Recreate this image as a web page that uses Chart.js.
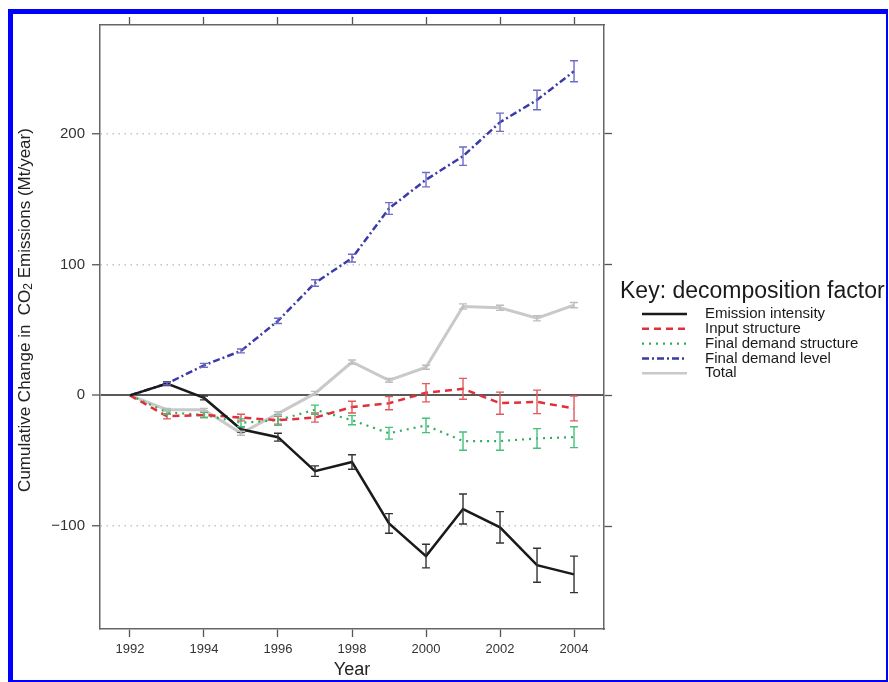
<!DOCTYPE html>
<html>
<head>
<meta charset="utf-8">
<script src="https://cdn.jsdelivr.net/npm/chart.js@4.4.1/dist/chart.umd.min.js"></script>
<style>
  html, body { margin: 0; padding: 0; background: #fff; }
  #wrap { position: relative; width: 889px; height: 682px; }
  #chart { display: block; }
  #frame { position: absolute; left: 8px; top: 9px; width: 880px; height: 673px; box-sizing: border-box;
    border-style: solid; border-color: #0000ff; border-width: 5px 2px 2px 5px; pointer-events: none; }
</style>
</head>
<body>
<div id="wrap">
  <canvas id="chart" width="889" height="682"></canvas>
  <div id="frame"></div>
</div>
<script>
// values (Mt/year, cumulative from 1992)
const years = [1992, 1993, 1994, 1995, 1996, 1997, 1998, 1999, 2000, 2001, 2002, 2003, 2004];
const emissionIntensity    = [0, 9, -2, -26, -32, -58, -51, -98, -123, -87, -101, -130, -137];
const emissionIntensityErr = [0, 1.5, 1.5, 2, 3, 4, 5.5, 7.5, 9, 11.5, 12, 13, 14];
const inputStructure       = [0, -16, -15, -17, -19, -17, -9, -6, 2, 5, -6, -5, -10];
const inputStructureErr    = [0, 2, 2, 2.5, 3, 3.5, 4.5, 5, 7, 8, 8.5, 9, 9.5];
const finalDemandStructure    = [0, -13, -15, -21, -19, -11, -19, -29, -23, -35, -35, -33, -32];
const finalDemandStructureErr = [0, 1.5, 2, 3, 4, 3.5, 3.5, 4.5, 5.5, 7, 7, 7.5, 8];
const finalDemandLevel    = [0, 9, 23, 34, 57, 86, 105, 143, 165, 183, 209, 226, 248];
const finalDemandLevelErr = [0, 1, 1.5, 1.5, 2, 2.5, 3, 4.5, 5.5, 7, 7, 7.5, 8];
const total    = [0, -11, -11, -29, -14, 1.5, 25.5, 11.5, 21.5, 68, 67, 59, 69];
const totalErr = [0, 1, 1, 1.5, 1.5, 1.5, 1.5, 1.5, 1.5, 2, 2, 2, 2];

const xTicks = [1992, 1994, 1996, 1998, 2000, 2002, 2004];
const yTicks = [-100, 0, 100, 200];
const xRange = [1991.19, 2004.81];
const yRange = [-178.8, 283.4];

const FONT = '"Liberation Sans", Arial, Helvetica, sans-serif';
const pts = vals => years.map((yr, i) => ({ x: yr, y: vals[i] }));

// error bars drawn from the errors array of each dataset
const errorBars = {
  id: 'errorBars',
  afterDatasetsDraw(chart) {
    const { ctx, scales: { x, y } } = chart;
    chart.data.datasets.forEach(ds => {
      if (!ds.errors) return;
      ctx.save();
      ctx.strokeStyle = ds.errColor;
      ctx.lineWidth = 1.4;
      ctx.setLineDash([]);
      ds.data.forEach((p, i) => {
        const e = ds.errors[i];
        if (!e) return;
        const px = x.getPixelForValue(p.x);
        const top = y.getPixelForValue(p.y + e);
        const bot = y.getPixelForValue(p.y - e);
        ctx.beginPath();
        ctx.moveTo(px, top); ctx.lineTo(px, bot);
        ctx.moveTo(px - 4, top); ctx.lineTo(px + 4, top);
        ctx.moveTo(px - 4, bot); ctx.lineTo(px + 4, bot);
        ctx.stroke();
      });
      ctx.restore();
    });
  }
};

// rotated y title with subscript 2
const yTitle = {
  id: 'yTitle',
  afterDraw(chart) {
    const ctx = chart.ctx;
    const parts = [['Cumulative Change in  CO', 17, 0], ['2', 12, 4], [' Emissions (Mt/year)', 17, 0]];
    ctx.save();
    ctx.translate(25, 310);
    ctx.rotate(-Math.PI / 2);
    ctx.fillStyle = '#222';
    ctx.textBaseline = 'middle';
    let w = 0;
    parts.forEach(p => { ctx.font = p[1] + 'px ' + FONT; w += ctx.measureText(p[0]).width; });
    let cx = -w / 2;
    parts.forEach(p => {
      ctx.font = p[1] + 'px ' + FONT;
      ctx.fillText(p[0], cx, p[2]);
      cx += ctx.measureText(p[0]).width;
    });
    ctx.restore();
  }
};

// key to the right of the panel
const keyLegend = {
  id: 'keyLegend',
  afterDraw(chart) {
    const ctx = chart.ctx;
    ctx.save();
    ctx.fillStyle = '#1a1a1a';
    ctx.textBaseline = 'middle';
    ctx.font = '23px ' + FONT;
    ctx.fillText('Key: decomposition factor', 620, 292);
    ctx.font = '15px ' + FONT;
    chart.data.datasets.forEach((ds, i) => {
      const yy = 314 + i * 14.8;
      ctx.strokeStyle = ds.borderColor;
      ctx.lineWidth = Math.min(ds.borderWidth, 2.5);
      ctx.setLineDash(ds.borderDash || []);
      ctx.beginPath();
      ctx.moveTo(642, yy); ctx.lineTo(687, yy);
      ctx.stroke();
      ctx.setLineDash([]);
      ctx.fillText(ds.label, 705, yy);
    });
    ctx.restore();
  }
};

const isZero = c => c.tick && c.tick.value === 0;
const setTicks = list => scale => { scale.ticks = list.map(v => ({ value: v })); };
const frameBorder = { display: true, color: '#666', width: 1.5 };
const markGrid = { drawOnChartArea: false, drawTicks: true, tickLength: 8, tickColor: '#555', tickWidth: 1.3 };

new Chart(document.getElementById('chart'), {
  type: 'line',
  data: {
    datasets: [
      { label: 'Emission intensity', data: pts(emissionIntensity), errors: emissionIntensityErr,
        borderColor: '#1a1a1a', errColor: '#333', borderWidth: 2.5, order: 0 },
      { label: 'Input structure', data: pts(inputStructure), errors: inputStructureErr,
        borderColor: '#e0303a', errColor: '#e05a5a', borderWidth: 2.5, borderDash: [7, 5], order: 0 },
      { label: 'Final demand structure', data: pts(finalDemandStructure), errors: finalDemandStructureErr,
        borderColor: '#2fae5e', errColor: '#45c07a', borderWidth: 2.2, borderDash: [2, 5], order: 0 },
      { label: 'Final demand level', data: pts(finalDemandLevel), errors: finalDemandLevelErr,
        borderColor: '#3b3ba8', errColor: '#6c6cc4', borderWidth: 2.5, borderDash: [7, 3, 2, 3], order: 0 },
      { label: 'Total', data: pts(total), errors: totalErr,
        borderColor: '#c9c9c9', errColor: '#bdbdbd', borderWidth: 3, order: 1 }
    ]
  },
  options: {
    responsive: false,
    animation: false,
    layout: { padding: 0 },
    elements: { point: { radius: 0 }, line: { tension: 0 } },
    plugins: { legend: { display: false }, tooltip: { enabled: false } },
    scales: {
      x: {
        type: 'linear', position: 'bottom', min: xRange[0], max: xRange[1],
        afterBuildTicks: setTicks(xTicks),
        afterFit: s => { s.height = 53; },
        grid: markGrid, border: frameBorder,
        ticks: { color: '#333', padding: 5, font: { size: 13, family: FONT }, callback: v => String(v) },
        title: { display: true, text: 'Year', color: '#222', font: { size: 18, family: FONT }, padding: { bottom: 1 } }
      },
      x2: {
        type: 'linear', position: 'top', min: xRange[0], max: xRange[1],
        afterBuildTicks: setTicks(xTicks),
        afterFit: s => { s.height = 25; },
        grid: markGrid, border: frameBorder,
        ticks: { display: false }
      },
      y: {
        type: 'linear', position: 'left', min: yRange[0], max: yRange[1],
        afterBuildTicks: setTicks(yTicks),
        afterFit: s => { s.width = 100; },
        grid: {
          drawOnChartArea: true, drawTicks: true, tickLength: 8, tickColor: '#555', tickWidth: 1.3,
          color: c => isZero(c) ? '#5a5a5a' : '#c4c4c4',
          lineWidth: c => isZero(c) ? 2 : 1.5
        },
        border: { display: true, color: '#666', width: 1.5, dash: c => isZero(c) ? [] : [1.5, 4.5] },
        ticks: { color: '#333', padding: 7, font: { size: 15, family: FONT }, callback: v => v < 0 ? '\u2212' + Math.abs(v) : String(v) }
      },
      y2: {
        type: 'linear', position: 'right', min: yRange[0], max: yRange[1],
        afterBuildTicks: setTicks(yTicks),
        afterFit: s => { s.width = 285; },
        grid: markGrid, border: frameBorder,
        ticks: { display: false }
      }
    }
  },
  plugins: [errorBars, yTitle, keyLegend]
});
</script>
</body>
</html>
